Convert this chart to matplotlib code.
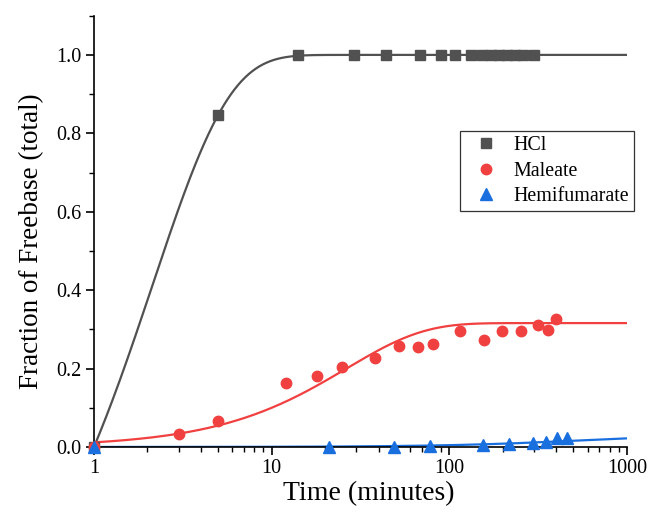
import numpy as np
import matplotlib
matplotlib.use("Agg")
import matplotlib.pyplot as plt
from matplotlib.ticker import FixedLocator, NullFormatter, FuncFormatter

# ---- data ----
hcl_t = [1, 5, 14, 29, 44, 68, 90, 108, 133, 152, 171, 190, 210, 235, 259, 300]
hcl_y = [0.0, 0.847, 1.0, 1.0, 1.0, 1.0, 1.0, 1.0, 1.0, 1.0, 1.0, 1.0, 1.0, 1.0, 1.0, 1.0]

mal_t = [1, 3, 5, 12, 18, 25, 38, 52, 67, 81, 115, 157, 199, 254, 314, 360, 397]
mal_y = [0.0, 0.033, 0.067, 0.162, 0.181, 0.205, 0.228, 0.257, 0.255, 0.262, 0.295, 0.272, 0.296, 0.297, 0.312, 0.298, 0.327]

hem_t = [1, 21, 49, 78, 154, 216, 297, 352, 406, 457]
hem_y = [0.0, 0.001, 0.001, 0.003, 0.004, 0.008, 0.010, 0.013, 0.022, 0.022]

# fitted first-order model parameters: y = A * (1 - exp(-k * (t - t0)))
hcl_fit = dict(A=1.0, k=0.469, t0=1.0)
mal_fit = dict(A=0.316, k=0.038, t0=0.0)
hem_fit = dict(A=0.0254, k=0.002, t0=0.0)

labels = ["HCl", "Maleate", "Hemifumarate"]
colors = ["#515151", "#F14040", "#1A6FDF"]
markers = ["s", "o", "^"]
msizes = [6.5, 7.5, 8.5]

FONT = ["Liberation Serif", "DejaVu Serif"]
plt.rcParams["font.family"] = FONT
plt.rcParams["font.serif"] = ["Liberation Serif", "DejaVu Serif"]
plt.rcParams["mathtext.fontset"] = "stix"

fig = plt.figure(figsize=(6.49, 5.13), dpi=100)
ax = fig.add_axes([0.1448, 0.1287, 0.8212, 0.8407])

tt = np.logspace(0, 3, 600)
def model(t, A, k, t0):
    return A * (1 - np.exp(-k * (t - t0)))

series = [(hcl_t, hcl_y, hcl_fit), (mal_t, mal_y, mal_fit), (hem_t, hem_y, hem_fit)]
handles = []
for (t, y, fit), lab, c, m, ms in zip(series, labels, colors, markers, msizes):
    ax.plot(tt, model(tt, **fit), color=c, lw=1.6, zorder=2)
    h, = ax.plot(t, y, linestyle="none", marker=m, ms=ms, color=c, mec=c,
                 label=lab, clip_on=False, zorder=3)
    handles.append(h)

ax.set_xscale("log")
ax.set_xlim(1, 1000)
ax.set_ylim(0, 1.1)

ax.xaxis.set_major_locator(FixedLocator([1, 10, 100, 1000]))
ax.xaxis.set_major_formatter(FuncFormatter(lambda v, p: f"{v:g}"))
ax.xaxis.set_minor_locator(FixedLocator([d * 10 ** e for e in range(0, 3) for d in range(2, 10)]))
ax.xaxis.set_minor_formatter(NullFormatter())
ax.yaxis.set_major_locator(FixedLocator([0.0, 0.2, 0.4, 0.6, 0.8, 1.0]))
ax.yaxis.set_major_formatter(FuncFormatter(lambda v, p: f"{v:.1f}"))
ax.yaxis.set_minor_locator(FixedLocator([0.1, 0.3, 0.5, 0.7, 0.9, 1.1]))

for s in ["top", "right"]:
    ax.spines[s].set_visible(False)
for s in ["left", "bottom"]:
    ax.spines[s].set_linewidth(1.2)

ax.tick_params(which="major", direction="out", length=6, width=1.2, labelsize=14.5, pad=3,
               labelfontfamily="Liberation Serif")
ax.tick_params(which="minor", direction="out", length=3.5, width=1.0)

ax.set_xlabel("Time (minutes)", fontsize=20, labelpad=2)
ax.set_ylabel("Fraction of Freebase (total)", fontsize=19.5, labelpad=9)
ax.xaxis.label.set_x(0.515)
ax.yaxis.label.set_y(0.4765)

leg = ax.legend(handles=handles, loc="upper left", bbox_to_anchor=(0.687, 0.733),
                prop={"family": FONT, "size": 14.4}, frameon=True, fancybox=False,
                borderpad=0.25, handlelength=2.1, handletextpad=0.3, labelspacing=0.34,
                borderaxespad=0)
leg.get_frame().set_edgecolor("black")
leg.get_frame().set_linewidth(0.9)

fig.savefig("out.png", dpi=100)
